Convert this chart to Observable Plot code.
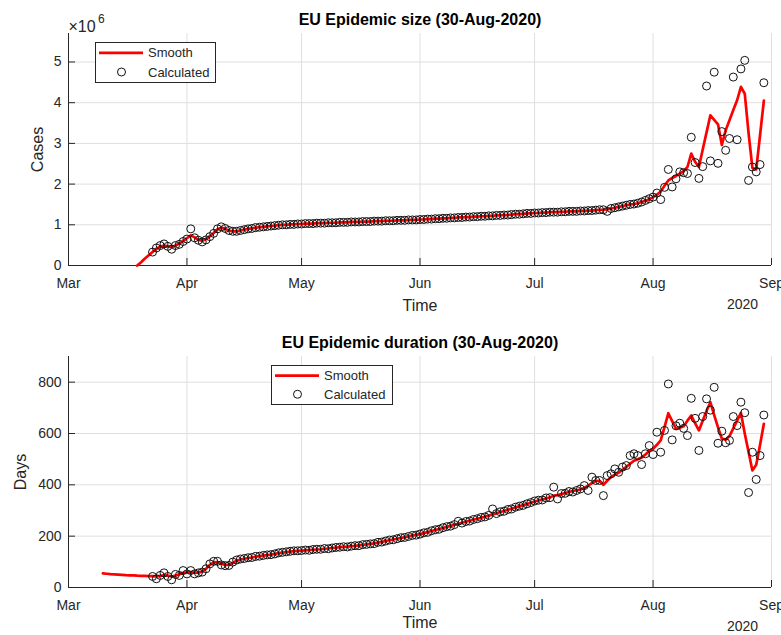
<!DOCTYPE html>
<html><head><meta charset="utf-8">
<script src="https://cdn.jsdelivr.net/npm/d3@7"></script>
<script src="https://cdn.jsdelivr.net/npm/@observablehq/plot@0.6"></script>
<style>
body{margin:0;background:#fff;}
#chart{position:relative;width:781px;height:635px;overflow:hidden;font-family:"Liberation Sans",Arial,sans-serif;background:#fff;}
#chart svg{position:absolute;display:block;}
</style></head><body><div id="chart"></div>
<script>
// ---------- data ----------
const calcStart = "2020-03-23";
const sizeSmoothStart = "2020-03-19";
const durationSmoothStart = "2020-03-10";

// Epidemic size, millions of cases (daily, from 23-Mar to 30-Aug)
const sizeCalculated = [
 0.33,0.43,0.49,0.53,0.47,0.40,0.49,0.52,0.59,
 0.65,0.90,0.68,0.62,0.58,0.63,0.71,0.79,0.90,0.95,0.91,0.86,0.84,0.84,0.86,0.88,0.90,0.91,0.93,0.94,0.95,0.96,0.97,0.98,0.99,1.00,1.00,1.01,1.01,1.02,
 1.02,1.03,1.03,1.03,1.04,1.04,1.04,1.05,1.05,1.05,1.06,1.06,1.06,1.07,1.07,1.07,1.08,1.08,1.08,1.09,1.09,1.09,1.10,1.10,1.10,1.11,1.11,1.11,1.12,1.12,1.12,
 1.13,1.13,1.14,1.14,1.15,1.15,1.16,1.16,1.17,1.17,1.18,1.18,1.19,1.19,1.20,1.20,1.21,1.21,1.22,1.22,1.23,1.23,1.24,1.24,1.25,1.26,1.26,1.27,1.28,1.28,
 1.29,1.29,1.30,1.30,1.31,1.31,1.31,1.32,1.32,1.33,1.33,1.33,1.34,1.34,1.35,1.35,1.36,1.37,1.37,1.33,1.40,1.42,1.44,1.46,1.48,1.50,1.51,1.53,1.56,1.60,1.64,
 1.68,1.78,1.62,1.92,2.36,1.93,2.13,2.30,2.28,2.26,3.15,2.53,2.14,2.43,4.41,2.57,4.75,2.51,3.29,2.83,3.12,4.63,3.09,4.83,5.04,2.09,2.42,2.30,2.48,4.49
];
// Smooth size, millions (daily, from 19-Mar to 30-Aug)
const sizeSmooth = [
 0.00,0.08,0.17,0.25,
 0.33,0.41,0.46,0.49,0.47,0.45,0.49,0.54,0.60,
 0.67,0.74,0.69,0.63,0.61,0.65,0.72,0.80,0.89,0.93,0.90,0.86,0.84,0.84,0.86,0.88,0.90,0.91,0.93,0.94,0.95,0.96,0.97,0.98,0.99,1.00,1.00,1.01,1.01,1.02,
 1.02,1.03,1.03,1.03,1.04,1.04,1.04,1.05,1.05,1.05,1.06,1.06,1.06,1.07,1.07,1.07,1.08,1.08,1.08,1.09,1.09,1.09,1.10,1.10,1.10,1.11,1.11,1.11,1.12,1.12,1.12,
 1.13,1.13,1.14,1.14,1.15,1.15,1.16,1.16,1.17,1.17,1.18,1.18,1.19,1.19,1.20,1.20,1.21,1.21,1.22,1.22,1.23,1.23,1.24,1.24,1.25,1.26,1.26,1.27,1.28,1.28,
 1.29,1.29,1.30,1.30,1.31,1.31,1.31,1.32,1.32,1.33,1.33,1.33,1.34,1.34,1.35,1.35,1.36,1.37,1.37,1.38,1.40,1.42,1.44,1.46,1.48,1.50,1.51,1.53,1.56,1.59,1.63,
 1.68,1.74,1.82,1.96,2.09,2.15,2.20,2.26,2.32,2.42,2.75,2.55,2.42,2.85,3.27,3.69,3.58,3.47,2.96,3.32,3.57,3.82,4.06,4.39,4.22,3.25,2.40,2.36,3.20,4.05
];
// Epidemic duration, days (daily, from 23-Mar to 30-Aug)
const durationCalculated = [
 43,34,47,57,43,30,51,47,66,
 53,66,53,57,60,73,92,102,102,88,85,86,99,107,111,113,116,117,121,122,125,127,128,131,135,137,139,141,143,143,
 144,146,145,148,149,149,152,151,154,156,157,159,158,161,163,163,167,168,170,171,176,177,181,185,186,190,194,195,199,203,204,
 208,213,215,221,225,227,233,237,239,245,258,251,257,259,265,268,273,275,281,306,288,295,297,304,306,313,317,320,326,331,
 337,340,341,349,350,391,345,366,367,374,372,378,384,397,378,430,417,417,358,436,443,462,449,469,475,514,521,514,479,521,553,
 518,605,527,612,793,575,630,640,620,592,737,659,534,666,735,691,780,562,609,564,573,666,631,722,681,370,527,421,514,672
];
// Smooth duration, days (daily, from 10-Mar to 30-Aug)
const durationSmooth = [
 55,53.5,52,51,50,49,48,47.5,47,46,45.5,45,44.5,
 44,43,45,48,46,43,46,52,57,
 59,60,58,58,62,73,88,98,99,93,88,88,96,104,109,112,115,117,120,122,124,126,128,131,134,136,138,140,142,143,
 144,145,146,147,148,149,151,152,154,155,157,158,159,161,162,164,166,168,170,172,175,178,181,184,187,190,193,196,199,202,205,
 208,212,216,220,224,228,232,236,240,244,248,252,256,260,264,268,272,276,280,285,289,294,298,303,307,312,316,321,325,330,
 335,339,343,347,351,358,360,364,368,372,376,379,382,388,397,407,415,416,400,416,430,440,447,458,470,482,494,500,506,518,532,
 540,556,573,625,679,648,618,622,628,650,670,640,612,650,688,722,672,624,580,576,590,620,650,680,600,528,456,478,555,638
];

const monthTicks = ["2020-03-01","2020-04-01","2020-05-01","2020-06-01","2020-07-01","2020-08-01","2020-09-01"];
const monthLabels = ["Mar","Apr","May","Jun","Jul","Aug","Sep"];
const sizeTicks = [0,1,2,3,4,5];
const durationTicks = [0,200,400,600,800];
const sizeDomain = [0, 5.7];
const durationDomain = [0, 900];
const sizeTitle = "EU Epidemic size (30-Aug-2020)";
const durationTitle = "EU Epidemic duration (30-Aug-2020)";
const legendLabels = ["Smooth", "Calculated"];

// ---------- helpers ----------
const DAY = 864e5;
const toSeries = (start, values) => values.map((v, i) => ({date: new Date(Date.parse(start) + i * DAY), value: v}));
const axisColor = "#262626";
const grid = "#dfdfdf";
const FONT = "'Liberation Sans', Arial, sans-serif";
const W = 781, ML = 68, MR = 10;

function panel({calc, smooth, yDomain, yTicks, title, ylabel, ylabelDx, height, marginTop, marginBottom, timeDy, yearDy, titleDy, exponent}) {
  const ticks = monthTicks.map(d => new Date(d));
  const xDomain = [ticks[0], ticks[ticks.length - 1]];
  const fw = W - ML - MR, fh = height - marginTop - marginBottom;
  const marks = [
    Plot.ruleX(ticks, {stroke: grid, strokeWidth: 1}),
    Plot.ruleY(yTicks, {stroke: grid, strokeWidth: 1}),
    Plot.tickX(ticks, {stroke: axisColor, insetTop: fh - 7}),
    Plot.tickY(yTicks, {stroke: axisColor, insetRight: fw - 7}),
    Plot.ruleX([xDomain[0]], {stroke: axisColor}),
    Plot.ruleY([yDomain[0]], {stroke: axisColor}),
    Plot.axisX({ticks, tickFormat: d => monthLabels[ticks.findIndex(t => +t === +d)], tickSize: 0, tickPadding: 13, fontSize: 14, label: null}),
    Plot.axisY({ticks: yTicks, tickFormat: d => String(d), tickSize: 0, tickPadding: 7, fontSize: 14, label: null}),
    Plot.line(smooth, {x: "date", y: "value", stroke: "#ff0000", strokeWidth: 2.7}),
    Plot.dot(calc, {x: "date", y: "value", r: 4, stroke: "#111", strokeWidth: 1, fill: "none"}),
    Plot.text([title], {frameAnchor: "top", lineAnchor: "middle", textAnchor: "middle", dy: titleDy, fontWeight: "bold", fontSize: 16, fill: "#000"}),
    Plot.text(["Time"], {frameAnchor: "bottom", lineAnchor: "middle", textAnchor: "middle", dy: timeDy, fontSize: 16}),
    Plot.text(["2020"], {frameAnchor: "bottom-right", lineAnchor: "middle", textAnchor: "middle", dx: -29, dy: yearDy, fontSize: 14}),
    Plot.text([ylabel], {frameAnchor: "left", lineAnchor: "middle", textAnchor: "middle", dx: ylabelDx, rotate: -90, fontSize: 16})
  ];
  if (exponent) {
    marks.push(Plot.text(["×10"], {frameAnchor: "top-left", lineAnchor: "middle", textAnchor: "start", dy: -7, fontSize: 16}));
    marks.push(Plot.text([exponent], {frameAnchor: "top-left", lineAnchor: "middle", textAnchor: "start", dx: 29.5, dy: -14, fontSize: 12}));
  }
  return Plot.plot({
    width: W, height, marginTop, marginBottom, marginLeft: ML, marginRight: MR,
    x: {type: "utc", domain: xDomain, label: null},
    y: {domain: yDomain, label: null},
    style: {fontFamily: FONT, fontSize: "14px", color: axisColor, background: "transparent", overflow: "visible"},
    marks
  });
}

function legend(left, top, w, h) {
  const svg = d3.create("svg").attr("width", w + 2).attr("height", h + 2)
    .style("left", left + "px").style("top", top + "px")
    .style("font-family", FONT).style("font-size", "13px");
  svg.append("rect").attr("x", 0.5).attr("y", 0.5).attr("width", w).attr("height", h)
    .attr("fill", "#fff").attr("stroke", axisColor);
  const y1 = h * 0.27, y2 = h * 0.75;
  svg.append("line").attr("x1", 4).attr("x2", 48).attr("y1", y1).attr("y2", y1)
    .attr("stroke", "#ff0000").attr("stroke-width", 2.7);
  svg.append("circle").attr("cx", 26.5).attr("cy", y2).attr("r", 4)
    .attr("fill", "none").attr("stroke", "#111");
  svg.append("text").attr("x", 53).attr("y", y1).attr("dy", "0.35em").attr("fill", axisColor).text(legendLabels[0]);
  svg.append("text").attr("x", 53).attr("y", y2).attr("dy", "0.35em").attr("fill", axisColor).text(legendLabels[1]);
  return svg.node();
}

const chart = document.getElementById("chart");
const top1 = panel({
  calc: toSeries(calcStart, sizeCalculated), smooth: toSeries(sizeSmoothStart, sizeSmooth),
  yDomain: sizeDomain, yTicks: sizeTicks, title: sizeTitle, ylabel: "Cases", ylabelDx: -31,
  height: 318, marginTop: 33, marginBottom: 53, timeDy: 40, yearDy: 39.5, titleDy: -14, exponent: "6"
});
top1.style.left = "0px"; top1.style.top = "0px";
chart.appendChild(top1);
const bottom1 = panel({
  calc: toSeries(calcStart, durationCalculated), smooth: toSeries(durationSmoothStart, durationSmooth),
  yDomain: durationDomain, yTicks: durationTicks, title: durationTitle, ylabel: "Days", ylabelDx: -48,
  height: 317, marginTop: 38, marginBottom: 48, timeDy: 35.5, yearDy: 39, titleDy: -14
});
bottom1.style.left = "0px"; bottom1.style.top = "318px";
chart.appendChild(bottom1);
chart.appendChild(legend(95, 41.5, 120, 40));
chart.appendChild(legend(270.5, 365, 121, 39));
</script></body></html>
